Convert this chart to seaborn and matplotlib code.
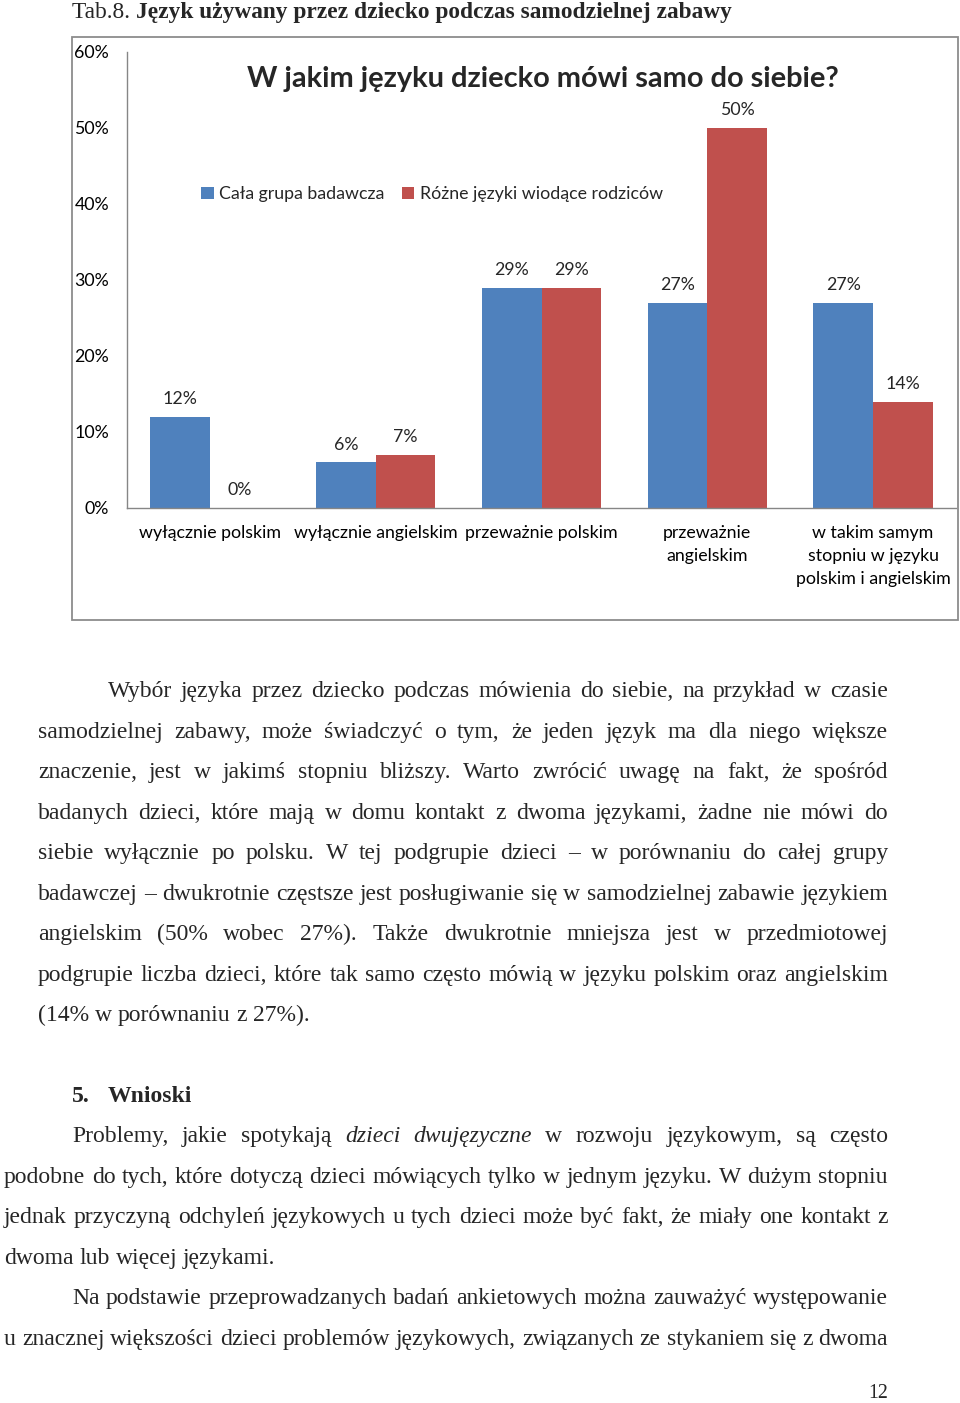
import numpy as np
import pandas as pd
import matplotlib
matplotlib.use("Agg")
import matplotlib.pyplot as plt
import seaborn as sns
from matplotlib.patches import Rectangle

# --- DANE ---
kategorie = ["wyłącznie polskim", "wyłącznie angielskim", "przeważnie polskim",
             "przeważnie\nangielskim", "w takim samym\nstopniu w języku\npolskim i angielskim"]
grupy = ["Cała grupa badawcza", "Różne języki wiodące rodziców"]
cala_grupa = [12, 6, 29, 27, 27]
rozne_jezyki = [0, 7, 29, 50, 14]
y_ticks = [0, 10, 20, 30, 40, 50, 60]
kolory = ["#4F81BD", "#C0504D"]

naglowek_reg = "Tab.8. "
naglowek_bold = "Język używany przez dziecko podczas samodzielnej zabawy"
tytul = "W jakim języku dziecko mówi samo do siebie?"

akapit1 = [
    "Wybór języka przez dziecko podczas mówienia do siebie, na przykład w czasie",
    "samodzielnej zabawy, może świadczyć o tym, że jeden język ma dla niego większe",
    "znaczenie, jest w jakimś stopniu bliższy. Warto zwrócić uwagę na fakt, że spośród",
    "badanych dzieci, które mają w domu kontakt z dwoma językami, żadne nie mówi do",
    "siebie wyłącznie po polsku. W tej podgrupie dzieci – w porównaniu do całej grupy",
    "badawczej – dwukrotnie częstsze jest posługiwanie się w samodzielnej zabawie językiem",
    "angielskim (50% wobec 27%). Także dwukrotnie mniejsza jest w przedmiotowej",
    "podgrupie liczba dzieci, które tak samo często mówią w języku polskim oraz angielskim",
    "(14% w porównaniu z 27%).",
]
sekcja = "Wnioski"
akapit2 = [
    "Problemy, jakie spotykają *dzieci* *dwujęzyczne* w rozwoju językowym, są często",
    "podobne do tych, które dotyczą dzieci mówiących tylko w jednym języku. W dużym stopniu",
    "jednak przyczyną odchyleń językowych u tych dzieci może być fakt, że miały one kontakt z",
    "dwoma lub więcej językami.",
]
akapit3 = [
    "Na podstawie przeprowadzanych badań ankietowych można zauważyć występowanie",
    "u znacznej większości dzieci problemów językowych, związanych ze stykaniem się z dwoma",
]

df = pd.DataFrame({
    "kategoria": kategorie * 2,
    "grupa": [grupy[0]] * len(kategorie) + [grupy[1]] * len(kategorie),
    "procent": cala_grupa + rozne_jezyki,
})

W, H = 960, 1403
SANS = "Lato"
SERIF = "Liberation Serif"


def fx(x):
    return x / W


def fy(y):
    return 1 - y / H


sns.set_theme(style="white")
plt.rcParams["font.family"] = [SANS, "DejaVu Sans"]

fig = plt.figure(figsize=(W / 100, H / 100), dpi=100)
fig.patch.set_facecolor("white")
renderer = fig.canvas.get_renderer()


def szer(s, **kw):
    t = fig.text(0, 0, s, **kw)
    w = t.get_window_extent(renderer).width
    t.remove()
    return w


def dopasuj(s, target, **kw):
    return 10 * target / szer(s, size=10, **kw)


# --- WYKRES ---
ax = fig.add_axes([fx(127), fy(508), (956 - 127) / W, (508 - 52) / H])
sns.barplot(data=df, x="kategoria", y="procent", hue="grupa", palette=kolory,
            width=0.72, saturation=1, edgecolor="none", ax=ax)
ax.set_xlim(-0.5, len(kategorie) - 0.5)
ax.set_ylim(0, 60)
ax.set_yticks(y_ticks)
ax.set_yticklabels([f"{v}%" for v in y_ticks])
ax.set_xlabel("")
ax.set_ylabel("")
fs_chart = 12.8
ax.tick_params(axis="y", length=0, pad=13, labelsize=fs_chart, labelcolor="black")
ax.tick_params(axis="x", length=0, pad=12, labelsize=fs_chart, labelcolor="black")
for lab in ax.get_xticklabels():
    lab.set_linespacing(1.55)
for s in ["top", "right"]:
    ax.spines[s].set_visible(False)
for s in ["left", "bottom"]:
    ax.spines[s].set_color("#868686")
    ax.spines[s].set_linewidth(1)
ax.set_facecolor("white")

for cont, vals in zip(ax.containers, [cala_grupa, rozne_jezyki]):
    ax.bar_label(cont, labels=[f"{v}%" for v in vals], padding=7, fontsize=fs_chart)

handles, labels = ax.get_legend_handles_labels()
ax.legend(handles, labels, loc="center", bbox_to_anchor=(fx(432), fy(194)),
          bbox_transform=fig.transFigure, ncol=2, frameon=False, fontsize=fs_chart,
          handlelength=0.7, handleheight=0.7, handletextpad=0.3, columnspacing=1.0)

fig.add_artist(Rectangle((fx(72), fy(620)), (958 - 72) / W, (620 - 37) / H,
                         transform=fig.transFigure, fill=False,
                         edgecolor="#8c8c8c", linewidth=1.3))

fs_tytul = dopasuj(tytul, 593, family=SANS, weight="bold")
fig.text(fx(543), fy(79), tytul, ha="center", va="center", size=fs_tytul,
         family=SANS, weight="bold")

# --- NAGLOWEK ---
fs_nag = 10 * 661 / (szer(naglowek_reg, size=10, family=SERIF) +
                     szer(naglowek_bold, size=10, family=SERIF, weight="bold"))
w_reg = szer(naglowek_reg, size=fs_nag, family=SERIF)
fig.text(fx(72), fy(18), naglowek_reg, size=fs_nag, family=SERIF, va="baseline")
fig.text(fx(72 + w_reg), fy(18), naglowek_bold, size=fs_nag, family=SERIF,
         weight="bold", va="baseline")


# --- TEKST ---
def slowa(linia):
    out = []
    for w in linia.split(" "):
        if w.startswith("*") and w.endswith("*"):
            out.append((w.strip("*"), "italic"))
        else:
            out.append((w, "normal"))
    return out


def natural(linia, fs):
    sl = slowa(linia)
    sp = szer("a a", size=fs, family=SERIF) - szer("aa", size=fs, family=SERIF)
    return sum(szer(w, size=fs, family=SERIF, style=st) for w, st in sl) + sp * (len(sl) - 1)


# tekst wyjustowany: (linia, x0, x1)
justowane = [(l, 108 if i == 0 else 38, 888) for i, l in enumerate(akapit1[:-1])]
justowane += [(akapit2[0], 72, 888), (akapit2[1], 4, 888), (akapit2[2], 4, 888),
              (akapit3[0], 72, 888), (akapit3[1], 4, 888)]
fs_txt = min(10 * (x1 - x0) / natural(l, 10) for l, x0, x1 in justowane)
spacja = szer("a a", size=fs_txt, family=SERIF) - szer("aa", size=fs_txt, family=SERIF)


def rysuj(linia, x0, x1, y, justuj=True):
    sl = slowa(linia)
    wd = [szer(w, size=fs_txt, family=SERIF, style=st) for w, st in sl]
    gap = (x1 - x0 - sum(wd)) / (len(sl) - 1) if justuj and len(sl) > 1 else spacja
    x = x0
    for (w, st), d in zip(sl, wd):
        fig.text(fx(x), fy(y + 7), w, size=fs_txt, family=SERIF, style=st,
                 ha="left", va="baseline")
        x += d + gap


ys1 = [690, 731, 771, 812, 852, 893, 933, 974, 1014]
for i, (l, y) in enumerate(zip(akapit1, ys1)):
    rysuj(l, 108 if i == 0 else 38, 888, y, justuj=i < len(akapit1) - 1)

fig.text(fx(72), fy(1102), "5.", size=fs_txt, family=SERIF, weight="bold", va="baseline")
fig.text(fx(108), fy(1102), sekcja, size=fs_txt, family=SERIF, weight="bold", va="baseline")

ys2 = [1135, 1176, 1216, 1257]
for i, (l, y) in enumerate(zip(akapit2, ys2)):
    rysuj(l, 72 if i == 0 else 4, 888, y, justuj=i < len(akapit2) - 1)

ys3 = [1297, 1338]
for i, (l, y) in enumerate(zip(akapit3, ys3)):
    rysuj(l, 72 if i == 0 else 4, 888, y)

fig.text(fx(888), fy(1398), "12", size=fs_txt * 0.85, family=SERIF, ha="right", va="baseline")

fig.savefig("out.png", dpi=100, facecolor="white")
